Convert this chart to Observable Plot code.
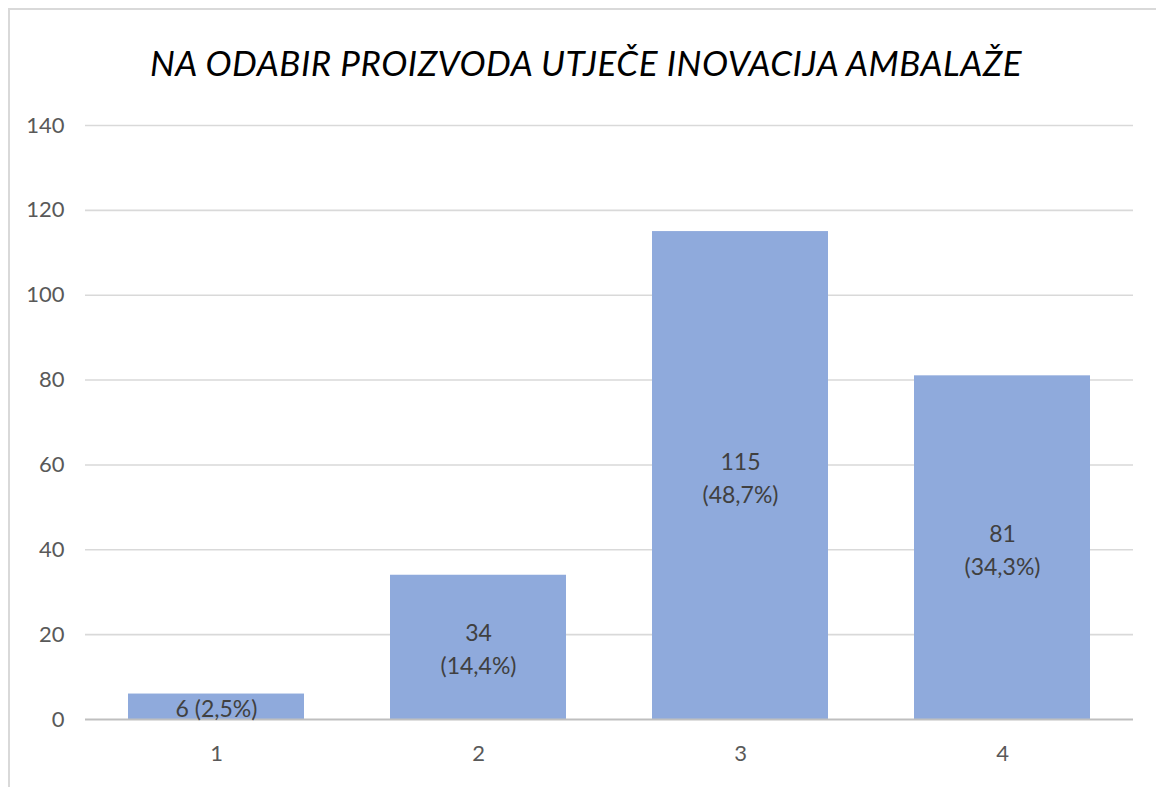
<!DOCTYPE html>
<html>
<head>
<meta charset="utf-8">
<script src="https://cdn.jsdelivr.net/npm/d3@7"></script>
<script src="https://cdn.jsdelivr.net/npm/@observablehq/plot@0.6"></script>
<style>
  body { margin: 0; background: #fff; width: 1156px; height: 787px; overflow: hidden; position: relative; }
  #frame { position: absolute; left: 8px; top: 8px; width: 1160px; height: 800px;
           border-left: 2px solid #d9d9d9; border-top: 2px solid #d9d9d9; }
  #title { position: absolute; left: 0; top: 38px; width: 1172px; text-align: center;
           font-family: Lato, "Open Sans", sans-serif; font-style: italic; font-size: 35px;
           letter-spacing: 0.5px; color: #000; line-height: 48px; white-space: nowrap; }
  #chart { position: absolute; left: 0; top: 100px; }
</style>
</head>
<body>
<div id="frame"></div>
<div id="title">NA ODABIR PROIZVODA UTJEČE INOVACIJA AMBALAŽE</div>
<div id="chart"></div>
<script>
const categories = ["1", "2", "3", "4"];
const values = [6, 34, 115, 81];
const barLabels = ["6 (2,5%)", "34\n(14,4%)", "115\n(48,7%)", "81\n(34,3%)"];
const yTicks = [0, 20, 40, 60, 80, 100, 120, 140];

const data = categories.map((c, i) => ({cat: c, value: values[i], label: barLabels[i]}));

const chart = Plot.plot({
  width: 1156,
  height: 679,
  marginLeft: 85,
  marginRight: 23,
  marginTop: 25,
  marginBottom: 60,
  style: {fontFamily: "Lato, 'Open Sans', sans-serif", fontSize: "22px", color: "#595959", background: "transparent"},
  x: {domain: categories, paddingInner: 0.33, paddingOuter: 0.165, label: null, tickSize: 0, tickPadding: 26},
  y: {domain: [0, 140], ticks: yTicks, label: null, tickSize: 0, tickPadding: 21},
  marks: [
    Plot.gridY(yTicks.filter(t => t > 0), {stroke: "#d9d9d9", strokeWidth: 1.6, strokeOpacity: 1}),
    Plot.barY(data, {x: "cat", y: "value", fill: "#8faadc"}),
    Plot.ruleY([0], {stroke: "#bfbfbf", strokeWidth: 2.2}),
    Plot.text(data, {x: "cat", y: d => d.value / 2, text: "label", fill: "#404040",
                     fontSize: 23, lineHeight: 1.43})
  ]
});
document.getElementById("chart").appendChild(chart);
</script>
</body>
</html>
